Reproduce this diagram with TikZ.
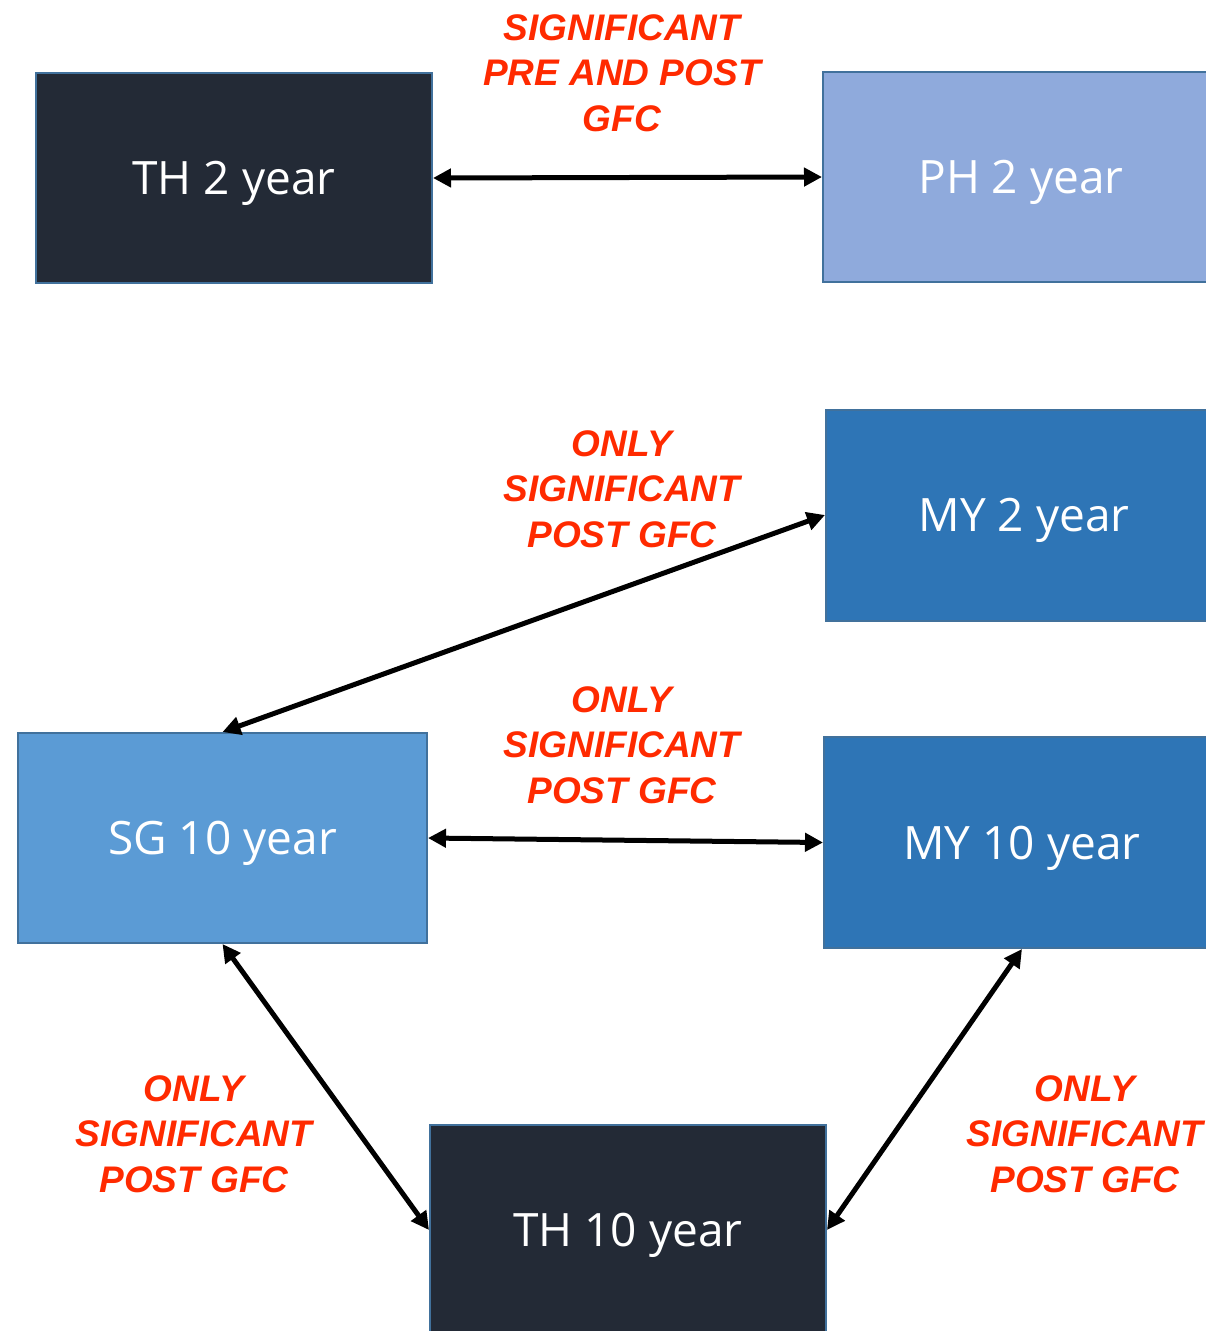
\documentclass[tikz,border=0pt]{standalone}
\usepackage{fontspec}
\setmainfont{Open Sans}
\newfontfamily\lblfont{Liberation Sans}
\usetikzlibrary{arrows.meta}

\definecolor{navybox}{HTML}{232A36}
\definecolor{paleblue}{HTML}{8FAADC}
\definecolor{midblue}{HTML}{2E75B6}
\definecolor{skyblue}{HTML}{5B9BD5}
\definecolor{edgeblue}{HTML}{41719C}
\definecolor{notered}{HTML}{FF2A00}

\tikzset{
  country/.style={rectangle, draw=edgeblue, line width=2pt, inner sep=0pt,
    minimum width=396pt, minimum height=210pt, text=white, text depth=0pt,
    font=\fontsize{46}{52}\selectfont},
  note/.style={align=center, text=notered, inner sep=0pt,
    font=\lblfont\bfseries\itshape\fontsize{37}{45.5}\selectfont},
  link/.style={line width=5pt, {Triangle[length=18pt,width=18pt]}-{Triangle[length=18pt,width=18pt]}}
}

\begin{document}
\begin{tikzpicture}[x=1pt,y=-1pt]
  \path[use as bounding box, clip] (0,0) rectangle (1206,1331);

  % country/tenor boxes
  \node[country, fill=navybox]  (th2)  at (234,178)    {TH 2 year};
  \node[country, fill=paleblue] (ph2)  at (1021,177)   {PH 2 year};
  \node[country, fill=midblue, minimum height=211pt] (my2) at (1024,515) {MY 2 year};
  \node[country, fill=skyblue, minimum width=409pt] (sg10) at (222.5,838) {SG 10 year};
  \node[country, fill=midblue, minimum height=211pt] (my10) at (1022,842.5) {MY 10 year};
  \node[country, fill=navybox]  (th10) at (628,1230)   {TH 10 year};

  % significance links
  \draw[link] (th2.east) -- (ph2.west);
  \draw[link] (sg10.north) -- (my2.west);
  \draw[link] (sg10.east) -- (my10.west);
  \draw[link] (sg10.south) -- (th10.west);
  \draw[link] (my10.south) -- (th10.east);

  % link annotations
  \node[note] (n1) at (622,73)   {SIGNIFICANT\\PRE AND POST\\GFC};
  \node[note] (n2) at (622,489)  {ONLY\\SIGNIFICANT\\POST GFC};
  \node[note] (n3) at (622,745)  {ONLY\\SIGNIFICANT\\POST GFC};
  \node[note] (n4) at (194,1134) {ONLY\\SIGNIFICANT\\POST GFC};
  \node[note] (n5) at (1085,1134){ONLY\\SIGNIFICANT\\POST GFC};
\end{tikzpicture}
\end{document}
